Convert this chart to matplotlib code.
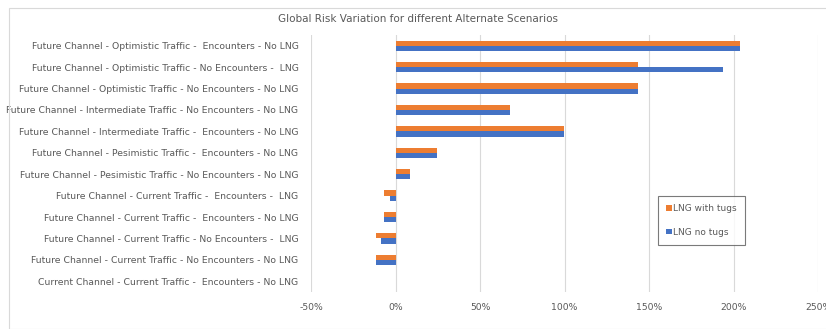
import numpy as np
import matplotlib.pyplot as plt
from matplotlib.patches import Rectangle
from matplotlib.ticker import FuncFormatter

# scenario labels, top row first
scenarios = [
    "Future Channel - Optimistic Traffic -  Encounters - No LNG",
    "Future Channel - Optimistic Traffic - No Encounters -  LNG",
    "Future Channel - Optimistic Traffic - No Encounters - No LNG",
    "Future Channel - Intermediate Traffic - No Encounters - No LNG",
    "Future Channel - Intermediate Traffic -  Encounters - No LNG",
    "Future Channel - Pesimistic Traffic -  Encounters - No LNG",
    "Future Channel - Pesimistic Traffic - No Encounters - No LNG",
    "Future Channel - Current Traffic -  Encounters -  LNG",
    "Future Channel - Current Traffic -  Encounters - No LNG",
    "Future Channel - Current Traffic - No Encounters -  LNG",
    "Future Channel - Current Traffic - No Encounters - No LNG",
    "Current Channel - Current Traffic -  Encounters - No LNG",
]
# risk variation in %
with_tugs = [204, 143.5, 143.5, 67.5, 99.5, 24.5, 8.3, -6.7, -6.9, -11.4, -11.4, 0]
no_tugs = [204, 194, 143.5, 67.5, 99.5, 24.5, 8.3, -3.5, -6.9, -8.5, -11.4, 0]

ORANGE = "#ED7D31"
BLUE = "#4472C4"
TXT = "#595959"

plt.rcParams['font.family'] = ['DejaVu Sans']

fig = plt.figure(figsize=(8.26, 3.29), dpi=100)
fig.patches.append(Rectangle((9 / 826, 0.0), 1.0, 1 - 8 / 329,
                             transform=fig.transFigure, fill=False,
                             edgecolor="#D9D9D9", linewidth=0.8))
ax = fig.add_axes([311 / 826, 1 - 292 / 329, 507 / 826, 257 / 329])

y = np.arange(len(scenarios))
h = 0.24
ax.barh(y - h / 2, with_tugs, height=h, color=ORANGE, label="LNG with tugs")
ax.barh(y + h / 2, no_tugs, height=h, color=BLUE, label="LNG no tugs")

ax.set_xlim(-50, 250)
ax.set_ylim(len(scenarios) - 0.5, -0.5)
ax.set_xticks(np.arange(-50, 251, 50))
ax.xaxis.set_major_formatter(FuncFormatter(lambda v, p: f"{v:.0f}%"))
ax.set_yticks(y)
ax.set_yticklabels(scenarios)
ax.tick_params(axis="both", length=0, labelsize=6.7, colors=TXT)
ax.tick_params(axis="y", pad=9)
ax.tick_params(axis="x", pad=8)
ax.grid(axis="x", color="#D9D9D9", linewidth=0.8)
ax.set_axisbelow(True)
for s in ax.spines.values():
    s.set_visible(False)

fig.text(418 / 826, 1 - 19 / 329,
         "Global Risk Variation for different Alternate Scenarios",
         fontsize=7.5, color=TXT, ha="center", va="center")

leg = ax.legend(loc="upper left", bbox_to_anchor=((658 - 311) / 507, (292 - 196) / 257),
                fontsize=6.5, frameon=True, fancybox=False, handlelength=0.6,
                handleheight=0.6, labelspacing=1.6, borderpad=0.9,
                handletextpad=0.2, borderaxespad=0)
leg.get_frame().set_edgecolor("#595959")
leg.get_frame().set_linewidth(0.8)
for t in leg.get_texts():
    t.set_color(TXT)

fig.savefig("out.png", dpi=100)
